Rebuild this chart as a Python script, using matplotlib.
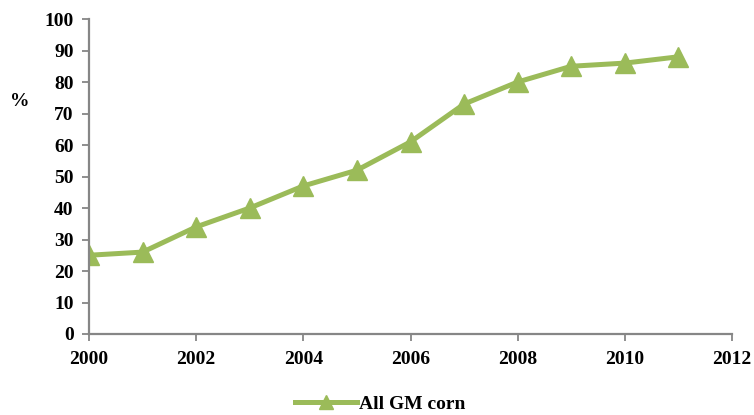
import numpy as np
import matplotlib
matplotlib.use('Agg')
import matplotlib.pyplot as plt

years = [2000, 2001, 2002, 2003, 2004, 2005, 2006, 2007, 2008, 2009, 2010, 2011]
gm_corn = [25, 26, 34, 40, 47, 52, 61, 73, 80, 85, 86, 88]

plt.rcParams['font.family'] = ['Liberation Serif', 'DejaVu Serif']
plt.rcParams['font.weight'] = 'bold'

fig = plt.figure(figsize=(7.54, 4.15), dpi=100)
ax = fig.add_axes([89/754, 1-334/415, (732-89)/754, (334-19)/415])

green = '#9BBB59'
ax.plot(years, gm_corn, color=green, lw=3.6, marker='^', ms=14,
        markeredgecolor=green, label='All GM corn')

ax.set_xlim(2000, 2012)
ax.set_ylim(0, 100)
ax.set_xticks(range(2000, 2013, 2))
ax.set_yticks(range(0, 101, 10))
for s in ['top', 'right']:
    ax.spines[s].set_visible(False)
for s in ['left', 'bottom']:
    ax.spines[s].set_color('#868686')
    ax.spines[s].set_linewidth(1.6)
ax.tick_params(colors='#868686', width=1.3, length=5, labelcolor='black',
               labelsize=14)
for lab in ax.get_xticklabels() + ax.get_yticklabels():
    lab.set_fontweight('bold')
ax.tick_params(axis='x', pad=7)
ax.tick_params(axis='y', pad=6)

fig.text(20/754, 1-101/415, '%', fontsize=14, fontweight='bold',
         ha='center', va='center')

fig.legend(loc='center', bbox_to_anchor=(380/754, 1-404/415), frameon=False,
           prop={'size': 14, 'weight': 'bold'}, handlelength=3.2,
           handletextpad=0.1, markerscale=0.75)

fig.savefig('out.png', dpi=100)
